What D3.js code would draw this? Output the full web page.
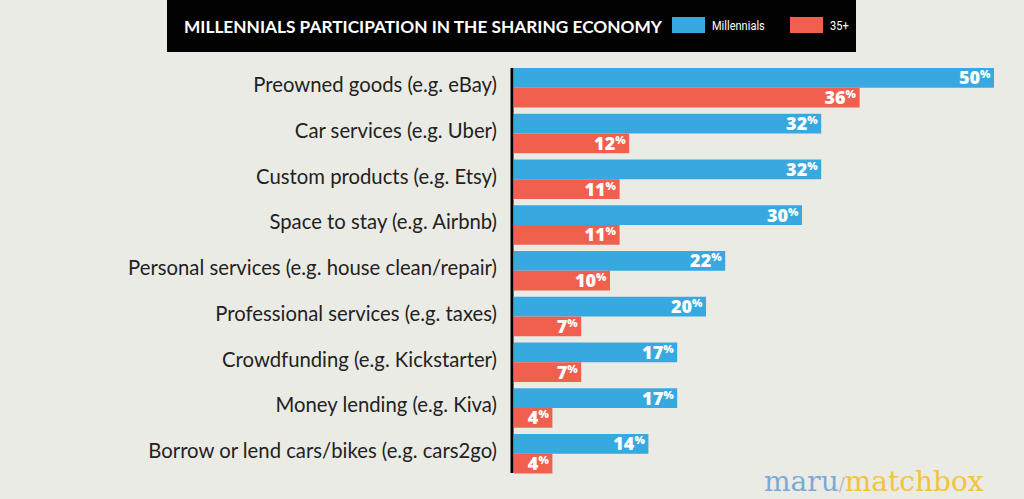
<!DOCTYPE html>
<html><head><meta charset="utf-8">
<script src="https://cdn.jsdelivr.net/npm/d3@7/dist/d3.min.js"></script>
<style>
html,body{margin:0;padding:0;background:#ebebe6;}
svg{display:block;}
</style></head>
<body><svg id="c" width="1024" height="499"></svg>
<script>
const categories = [
  "Preowned goods (e.g. eBay)",
  "Car services (e.g. Uber)",
  "Custom products (e.g. Etsy)",
  "Space to stay (e.g. Airbnb)",
  "Personal services (e.g. house clean/repair)",
  "Professional services (e.g. taxes)",
  "Crowdfunding (e.g. Kickstarter)",
  "Money lending (e.g. Kiva)",
  "Borrow or lend cars/bikes (e.g. cars2go)"
];
const millennials = [50, 32, 32, 30, 22, 20, 17, 17, 14];
const over35 = [36, 12, 11, 11, 10, 7, 7, 4, 4];
const seriesNames = ["Millennials", "35+"];
const title = "MILLENNIALS PARTICIPATION IN THE SHARING ECONOMY";

const colors = ["#38a8e0", "#f1604e"];
const svg = d3.select("#c");

svg.append("rect").attr("width",1024).attr("height",499).attr("fill","#ebebe6");

// header
svg.append("rect").attr("x",167).attr("y",0).attr("width",689).attr("height",52).attr("fill","#020202");
svg.append("text").attr("x",184).attr("y",33).text(title)
  .attr("fill","#fff").attr("font-family","Lato, 'Open Sans', sans-serif").attr("font-weight",700)
  .attr("font-size",16.2).attr("textLength",478).attr("lengthAdjust","spacingAndGlyphs");
const legX = [672, 790];
seriesNames.forEach((n,i)=>{
  svg.append("rect").attr("x",legX[i]).attr("y",17).attr("width",33).attr("height",16).attr("fill",colors[i]);
  svg.append("text").attr("x",legX[i]+40).attr("y",30).text(n).attr("fill","#fff")
    .attr("font-family","'Liberation Sans Narrow', Roboto, sans-serif").attr("font-size",13)
    .attr("transform", `translate(${legX[i]+40},0) scale(0.85,1) translate(${-(legX[i]+40)},0)`);
});

// scales
const x = d3.scaleLinear().domain([0,50]).range([514, 994]);
const y = d3.scaleBand().domain(categories).range([68, 473.5]).paddingInner(0.137).paddingOuter(0);
const sub = d3.scaleBand().domain([0,1]).range([0, y.bandwidth()]);

const g = svg.append("g");
const rows = g.selectAll("g.row").data(categories).join("g").attr("class","row")
  .attr("transform", d=>`translate(0,${y(d)})`);

[millennials, over35].forEach((vals, si)=>{
  rows.append("rect")
    .attr("x", x(0)).attr("y", sub(si))
    .attr("width", (d,i)=>x(vals[i]) - x(0))
    .attr("height", sub.bandwidth())
    .attr("fill", colors[si]);
  rows.append("text")
    .attr("x", (d,i)=>x(vals[i]) - 14)
    .attr("y", sub(si) + sub.bandwidth()/2 + 6.5)
    .attr("text-anchor","end")
    .attr("fill","#fff").attr("font-family","'Open Sans', Lato, sans-serif").attr("font-weight",800)
    .attr("font-size",18)
    .text((d,i)=>vals[i]);
  rows.append("text")
    .attr("x", (d,i)=>x(vals[i]) - 14)
    .attr("y", sub(si) + sub.bandwidth()/2 + 0.5)
    .attr("fill","#fff").attr("font-family","'Open Sans', Lato, sans-serif").attr("font-weight",800)
    .attr("font-size",11)
    .text("%");
});

rows.append("text")
  .attr("x", 497).attr("y", y.bandwidth()/2 + 4.5)
  .attr("text-anchor","end").attr("fill","#222")
  .attr("font-family","Lato, 'Open Sans', sans-serif").attr("font-size",20.3)
  .text(d=>d);

// axis line
svg.append("line").attr("x1",512).attr("x2",512).attr("y1",68).attr("y2",473)
  .attr("stroke","#000").attr("stroke-width",3);

// logo
const logo = svg.append("text").attr("x",764).attr("y",491)
  .attr("font-family","'DejaVu Serif', serif").attr("font-size",28).attr("font-weight",300);
logo.append("tspan").attr("fill","#7ea9d6").text("maru");
logo.append("tspan").attr("fill","#b8b8b8").attr("font-size",18).text("/");
logo.append("tspan").attr("fill","#f4c33e").text("matchbox");
</script></body></html>
